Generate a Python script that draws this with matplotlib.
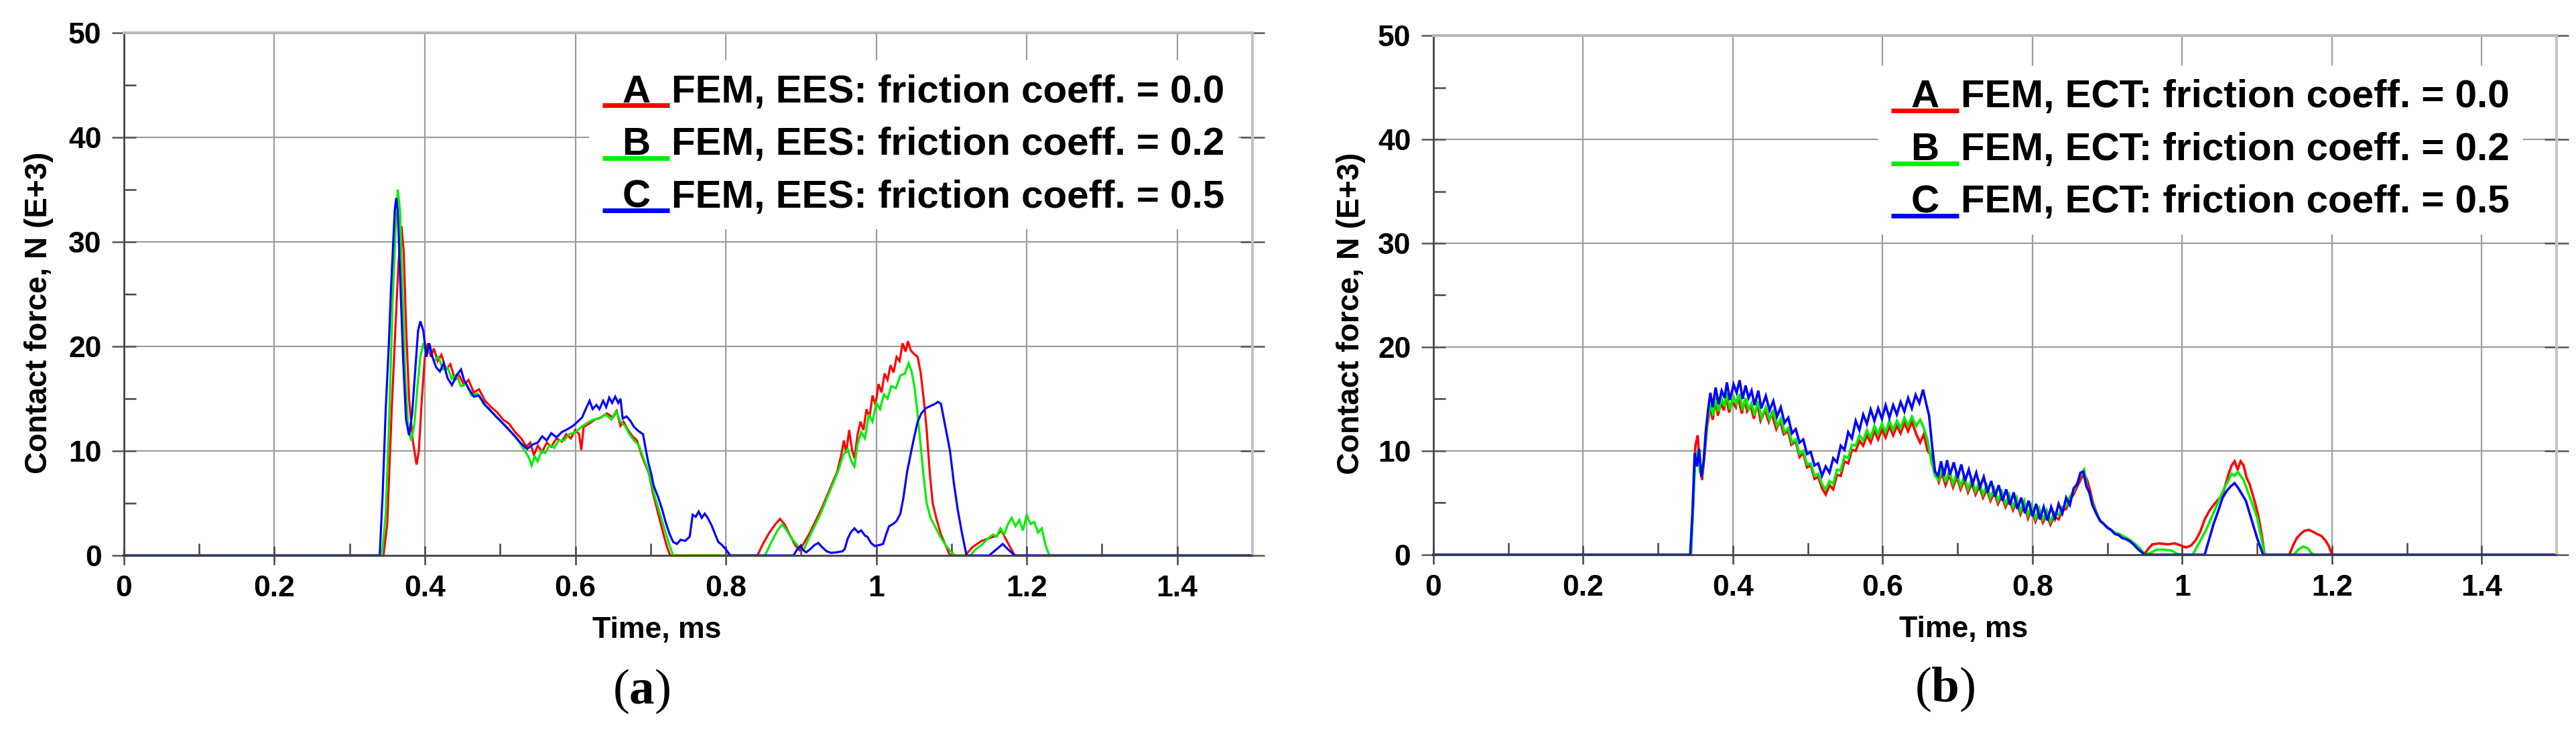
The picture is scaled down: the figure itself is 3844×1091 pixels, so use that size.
import matplotlib
matplotlib.use("Agg")
import matplotlib.pyplot as plt
from matplotlib.ticker import MultipleLocator, FixedLocator
from matplotlib.legend_handler import HandlerBase
from matplotlib.lines import Line2D
from matplotlib.text import Text

plt.rcParams['font.family'] = ['Liberation Sans', 'DejaVu Sans']
plt.rcParams['font.weight'] = 'bold'
plt.rcParams['mathtext.fontset'] = 'custom'
plt.rcParams['mathtext.rm'] = 'Liberation Serif'
plt.rcParams['mathtext.bf'] = 'Liberation Serif:bold'

# ---------------- data ----------------
X_TICKS = [0, 0.2, 0.4, 0.6, 0.8, 1.0, 1.2, 1.4]
X_TICKLABELS = ["0", "0.2", "0.4", "0.6", "0.8", "1", "1.2", "1.4"]
Y_TICKS = [0, 10, 20, 30, 40, 50]
X_LABEL = "Time, ms"
Y_LABEL = "Contact force, N (E+3)"
LETTERS = ["A", "B", "C"]
LABELS_A = ["FEM, EES: friction coeff. = 0.0",
            "FEM, EES: friction coeff. = 0.2",
            "FEM, EES: friction coeff. = 0.5"]
LABELS_B = ["FEM, ECT: friction coeff. = 0.0",
            "FEM, ECT: friction coeff. = 0.2",
            "FEM, ECT: friction coeff. = 0.5"]
CAPTIONS = [r"($\mathbf{a}$)", r"($\mathbf{b}$)"]

# panel (a) -- EES
A_RED = [(0, 0), (0.345, 0), (0.350, 3), (0.356, 14), (0.361, 22), (0.365, 28), (0.369, 31.5),
         (0.372, 29), (0.375, 22), (0.379, 15), (0.384, 11), (0.389, 8.7), (0.392, 10), (0.396, 15),
         (0.400, 19), (0.404, 20.3), (0.408, 19), (0.412, 19.8), (0.417, 18.6), (0.422, 19.2),
         (0.428, 17.8), (0.434, 18.3), (0.440, 16.8), (0.446, 17.2), (0.452, 16.3), (0.458, 16.8),
         (0.465, 15.6), (0.472, 15.9), (0.480, 14.8), (0.488, 14.2), (0.496, 13.7), (0.504, 13.0),
         (0.512, 12.6), (0.520, 11.8), (0.528, 11.2), (0.535, 10.4), (0.540, 10.8), (0.545, 9.6),
         (0.550, 10.5), (0.556, 9.9), (0.562, 10.8), (0.568, 10.4), (0.575, 11.2), (0.582, 10.9),
         (0.588, 11.6), (0.594, 11.2), (0.600, 12.0), (0.605, 11.6), (0.608, 10.1), (0.611, 12.3),
         (0.618, 12.6), (0.626, 13.0), (0.634, 13.2), (0.642, 13.6), (0.650, 13.2), (0.655, 13.8),
         (0.660, 12.4), (0.664, 12.8), (0.670, 12.0), (0.676, 11.4), (0.682, 11.0), (0.688, 9.6),
         (0.693, 8.7), (0.698, 7.8), (0.703, 6.0), (0.708, 4.6), (0.713, 3.2), (0.718, 1.8),
         (0.722, 0.8), (0.726, 0), (0.842, 0), (0.850, 1.2), (0.858, 2.2), (0.866, 3.0), (0.872, 3.5),
         (0.878, 3.0), (0.885, 2.0), (0.892, 1.0), (0.898, 0.5), (0.904, 1.2), (0.912, 2.2),
         (0.920, 3.4), (0.928, 4.6), (0.935, 5.8), (0.942, 7.0), (0.948, 8.0), (0.953, 9.5),
         (0.957, 11.0), (0.960, 9.8), (0.964, 12.0), (0.968, 10.0), (0.971, 9.3), (0.975, 11.5),
         (0.979, 12.8), (0.983, 12.0), (0.987, 14.0), (0.991, 13.2), (0.995, 15.3), (0.999, 14.4),
         (1.003, 16.4), (1.007, 15.6), (1.011, 17.4), (1.015, 16.8), (1.019, 18.2), (1.023, 17.5),
         (1.027, 19.0), (1.031, 18.6), (1.035, 20.3), (1.039, 19.5), (1.042, 20.5), (1.046, 19.6),
         (1.050, 19.3), (1.055, 19.0), (1.059, 17.5), (1.063, 15.0), (1.067, 12.0), (1.071, 8.0),
         (1.075, 5.0), (1.080, 3.5), (1.086, 2.0), (1.092, 1.0), (1.098, 0), (1.118, 0), (1.128, 0.8),
         (1.140, 1.4), (1.152, 1.7), (1.160, 1.9), (1.166, 2.4), (1.172, 1.6), (1.178, 0.8),
         (1.184, 0), (1.5, 0)]

A_GREEN = [(0, 0), (0.343, 0), (0.348, 4), (0.353, 14), (0.357, 24), (0.361, 31), (0.364, 35.0),
           (0.367, 33), (0.370, 26), (0.374, 17), (0.378, 12), (0.382, 11), (0.386, 12.5), (0.390, 16),
           (0.394, 19), (0.398, 20.3), (0.402, 19.2), (0.407, 19.8), (0.412, 18.6), (0.418, 19.0),
           (0.424, 17.8), (0.430, 18.0), (0.436, 16.9), (0.442, 17.3), (0.448, 16.2), (0.455, 16.4),
           (0.462, 15.3), (0.470, 15.5), (0.478, 14.5), (0.486, 14.0), (0.494, 13.3), (0.502, 12.8),
           (0.510, 12.2), (0.518, 11.5), (0.526, 10.8), (0.533, 10.0), (0.538, 9.4), (0.542, 8.6),
           (0.546, 9.5), (0.550, 9.0), (0.555, 10.0), (0.560, 9.8), (0.566, 10.6), (0.572, 10.3),
           (0.578, 11.0), (0.585, 11.0), (0.592, 11.6), (0.600, 11.8), (0.608, 12.3), (0.616, 12.7),
           (0.624, 13.0), (0.632, 13.1), (0.640, 13.5), (0.648, 13.0), (0.654, 13.8), (0.660, 12.8),
           (0.666, 12.4), (0.672, 11.6), (0.678, 11.0), (0.684, 10.6), (0.690, 9.4), (0.695, 8.5),
           (0.700, 7.2), (0.705, 5.8), (0.710, 4.6), (0.715, 3.4), (0.720, 2.2), (0.725, 1.0),
           (0.730, 0), (0.852, 0), (0.860, 1.2), (0.868, 2.3), (0.875, 3.0), (0.881, 2.4), (0.888, 1.6),
           (0.896, 0.9), (0.904, 0.6), (0.910, 1.6), (0.918, 2.8), (0.926, 4.0), (0.934, 5.4),
           (0.942, 6.8), (0.950, 8.2), (0.956, 9.6), (0.962, 10.2), (0.967, 9.0), (0.971, 8.5),
           (0.975, 10.6), (0.980, 11.8), (0.985, 11.2), (0.990, 13.5), (0.995, 12.8), (1.000, 14.6),
           (1.005, 14.0), (1.010, 15.4), (1.015, 15.0), (1.020, 16.2), (1.026, 16.0), (1.032, 17.2),
           (1.038, 17.4), (1.043, 18.4), (1.047, 17.6), (1.051, 16.0), (1.055, 13.5), (1.059, 10.5),
           (1.063, 7.5), (1.067, 5.0), (1.072, 3.6), (1.078, 2.8), (1.085, 1.8), (1.092, 1.0),
           (1.100, 0.3), (1.105, 0), (1.125, 0), (1.132, 0.6), (1.140, 1.0), (1.148, 1.6), (1.155, 2.0),
           (1.160, 1.8), (1.165, 2.6), (1.170, 2.0), (1.175, 3.0), (1.180, 3.6), (1.185, 2.8),
           (1.190, 3.4), (1.195, 2.4), (1.200, 3.9), (1.205, 3.0), (1.210, 3.2), (1.215, 2.2),
           (1.220, 2.6), (1.225, 1.0), (1.230, 0), (1.5, 0)]

A_BLUE = [(0, 0), (0.340, 0), (0.344, 6), (0.348, 14), (0.352, 20), (0.355, 25.5), (0.358, 30),
          (0.360, 33), (0.362, 34.2), (0.364, 33), (0.367, 27), (0.371, 19), (0.375, 13), (0.379, 11.5),
          (0.383, 13.5), (0.387, 17.5), (0.391, 21.5), (0.394, 22.4), (0.398, 21.5), (0.402, 19.0),
          (0.406, 20.3), (0.410, 19.0), (0.415, 18.0), (0.420, 17.6), (0.425, 18.4), (0.430, 17.0),
          (0.436, 16.3), (0.442, 17.2), (0.448, 17.8), (0.452, 16.8), (0.458, 16.0), (0.465, 15.2),
          (0.472, 15.3), (0.480, 14.4), (0.488, 13.8), (0.496, 13.2), (0.504, 12.6), (0.512, 12.0),
          (0.520, 11.4), (0.528, 10.7), (0.536, 10.2), (0.543, 10.6), (0.550, 10.8), (0.556, 11.4),
          (0.562, 11.0), (0.568, 11.7), (0.575, 11.3), (0.582, 11.8), (0.590, 12.1), (0.597, 12.4),
          (0.603, 12.8), (0.609, 13.2), (0.615, 14.2), (0.619, 14.8), (0.623, 14.0), (0.628, 14.4),
          (0.632, 14.0), (0.637, 14.8), (0.641, 14.2), (0.645, 15.1), (0.649, 14.6), (0.653, 15.2),
          (0.657, 14.6), (0.660, 15.0), (0.663, 13.1), (0.668, 13.3), (0.673, 12.9), (0.678, 12.3),
          (0.684, 11.9), (0.690, 11.6), (0.694, 10.0), (0.697, 8.9), (0.701, 7.8), (0.704, 6.7),
          (0.710, 5.6), (0.715, 4.5), (0.720, 3.2), (0.725, 2.1), (0.730, 1.3), (0.735, 1.1),
          (0.740, 1.5), (0.746, 1.4), (0.752, 1.8), (0.756, 3.9), (0.760, 3.7), (0.764, 4.2),
          (0.768, 3.6), (0.772, 4.0), (0.776, 3.6), (0.781, 2.9), (0.786, 2.0), (0.790, 1.3),
          (0.795, 1.0), (0.800, 0.6), (0.806, 0), (0.890, 0), (0.895, 0.6), (0.899, 0.9), (0.903, 0.5),
          (0.907, 0.3), (0.912, 0.6), (0.918, 1.0), (0.923, 1.2), (0.928, 0.8), (0.934, 0.4),
          (0.940, 0.25), (0.947, 0.3), (0.955, 0.4), (0.958, 0.6), (0.962, 1.6), (0.966, 2.2),
          (0.971, 2.6), (0.976, 2.2), (0.980, 2.4), (0.985, 1.9), (0.988, 1.8), (0.993, 1.2),
          (0.998, 0.9), (1.004, 1.0), (1.009, 1.1), (1.013, 2.0), (1.017, 2.8), (1.022, 3.0),
          (1.027, 3.3), (1.032, 4.0), (1.036, 5.5), (1.041, 8.0), (1.046, 9.8), (1.050, 11.2),
          (1.055, 12.8), (1.060, 13.6), (1.066, 14.1), (1.072, 14.3), (1.078, 14.5), (1.082, 14.7),
          (1.086, 14.5), (1.090, 13.0), (1.094, 11.5), (1.098, 10.0), (1.103, 7.0), (1.108, 4.5),
          (1.114, 2.1), (1.120, 0), (1.150, 0), (1.160, 0.6), (1.168, 1.1), (1.175, 0.6), (1.184, 0),
          (1.5, 0)]

# panel (b) -- ECT
B_RED = [(0, 0), (0.344, 0), (0.347, 5.0), (0.350, 10.5), (0.353, 11.5), (0.356, 8.5), (0.359, 7.2),
         (0.362, 9.5), (0.366, 12.5), (0.370, 14.2), (0.373, 13.0), (0.377, 14.9), (0.380, 13.4),
         (0.384, 14.6), (0.388, 13.9), (0.391, 15.3), (0.395, 13.7), (0.399, 14.8), (0.404, 14.2),
         (0.407, 15.2), (0.412, 13.6), (0.416, 14.9), (0.419, 13.8), (0.424, 14.3), (0.428, 13.1),
         (0.433, 14.5), (0.437, 12.9), (0.443, 13.9), (0.448, 12.8), (0.452, 13.6), (0.458, 12.1),
         (0.463, 12.9), (0.468, 11.6), (0.474, 11.9), (0.478, 10.6), (0.484, 10.9), (0.489, 9.4),
         (0.494, 9.8), (0.499, 8.4), (0.504, 8.6), (0.509, 7.3), (0.514, 7.5), (0.519, 6.4),
         (0.524, 5.8), (0.529, 6.7), (0.534, 6.3), (0.539, 7.7), (0.544, 7.6), (0.549, 9.0),
         (0.554, 8.8), (0.559, 10.1), (0.564, 10.0), (0.569, 11.0), (0.574, 10.5), (0.579, 11.5),
         (0.584, 10.8), (0.589, 11.9), (0.594, 11.1), (0.599, 12.1), (0.604, 11.3), (0.609, 12.4),
         (0.614, 11.5), (0.619, 12.4), (0.624, 11.7), (0.629, 12.7), (0.634, 11.9), (0.639, 12.8),
         (0.645, 11.6), (0.650, 10.8), (0.655, 11.6), (0.660, 10.0), (0.665, 9.6), (0.670, 8.0),
         (0.675, 7.0), (0.679, 7.9), (0.684, 6.7), (0.689, 7.7), (0.694, 6.5), (0.699, 7.5),
         (0.704, 6.3), (0.709, 7.2), (0.714, 6.0), (0.719, 6.9), (0.724, 5.8), (0.729, 6.6),
         (0.734, 5.5), (0.739, 6.3), (0.744, 5.2), (0.749, 6.0), (0.754, 4.9), (0.759, 5.7),
         (0.764, 4.6), (0.769, 5.4), (0.774, 4.3), (0.779, 5.1), (0.784, 3.9), (0.789, 4.8),
         (0.794, 3.5), (0.799, 4.4), (0.804, 3.2), (0.809, 4.1), (0.814, 3.1), (0.819, 3.9),
         (0.824, 2.9), (0.829, 3.7), (0.835, 3.4), (0.840, 4.3), (0.845, 4.4), (0.850, 5.3),
         (0.855, 5.8), (0.860, 6.6), (0.865, 7.3), (0.869, 7.8), (0.873, 7.2), (0.877, 6.2),
         (0.881, 5.0), (0.886, 4.0), (0.891, 3.2), (0.896, 2.9), (0.901, 2.6), (0.906, 2.3),
         (0.911, 2.1), (0.916, 1.9), (0.921, 1.7), (0.926, 1.5), (0.931, 1.3), (0.936, 1.0),
         (0.941, 0.7), (0.946, 0.3), (0.950, 0.1), (0.955, 0.6), (0.960, 1.0), (0.970, 1.1),
         (0.980, 1.0), (0.990, 1.1), (0.998, 0.9), (1.005, 0.7), (1.012, 0.9), (1.018, 1.4),
         (1.024, 2.2), (1.030, 3.4), (1.036, 4.2), (1.042, 4.8), (1.048, 5.3), (1.054, 5.8),
         (1.058, 6.8), (1.062, 7.8), (1.066, 8.6), (1.070, 9.0), (1.074, 8.2), (1.078, 9.0),
         (1.082, 8.6), (1.086, 7.4), (1.090, 6.8), (1.094, 5.8), (1.098, 4.8), (1.102, 3.6),
         (1.106, 2.0), (1.110, 0), (1.143, 0), (1.148, 0.9), (1.153, 1.6), (1.158, 2.0), (1.163, 2.3),
         (1.169, 2.4), (1.175, 2.2), (1.180, 2.0), (1.186, 1.8), (1.191, 1.4), (1.196, 0.8),
         (1.200, 0), (1.5, 0)]

B_GREEN = [(0, 0), (0.344, 0), (0.347, 4.5), (0.350, 9.5), (0.353, 10.0), (0.356, 8.0), (0.359, 7.5),
           (0.362, 9.8), (0.366, 12.8), (0.370, 14.5), (0.374, 13.4), (0.377, 15.2), (0.381, 13.8),
           (0.385, 15.0), (0.389, 14.3), (0.392, 15.6), (0.396, 14.0), (0.401, 15.2), (0.405, 14.5),
           (0.409, 15.5), (0.413, 13.9), (0.417, 15.1), (0.421, 14.0), (0.425, 14.6), (0.429, 13.4),
           (0.434, 14.8), (0.438, 13.2), (0.444, 14.2), (0.449, 13.0), (0.454, 13.8), (0.459, 12.4),
           (0.464, 13.1), (0.469, 11.8), (0.474, 12.2), (0.479, 10.8), (0.484, 11.1), (0.489, 9.7),
           (0.494, 10.0), (0.499, 8.7), (0.504, 8.8), (0.509, 7.6), (0.514, 7.8), (0.519, 6.8),
           (0.524, 6.3), (0.529, 7.1), (0.534, 6.8), (0.539, 8.2), (0.544, 8.1), (0.549, 9.5),
           (0.554, 9.3), (0.559, 10.6), (0.564, 10.5), (0.569, 11.5), (0.574, 11.0), (0.579, 12.0),
           (0.584, 11.3), (0.589, 12.4), (0.594, 11.6), (0.599, 12.6), (0.604, 11.8), (0.609, 12.9),
           (0.614, 12.0), (0.619, 12.9), (0.624, 12.2), (0.629, 13.2), (0.634, 12.4), (0.639, 13.3),
           (0.645, 12.4), (0.650, 13.0), (0.655, 12.2), (0.660, 11.0), (0.665, 9.0), (0.670, 7.6),
           (0.675, 7.2), (0.680, 8.4), (0.684, 7.0), (0.689, 8.1), (0.694, 6.8), (0.699, 7.9),
           (0.704, 6.6), (0.709, 7.6), (0.714, 6.3), (0.719, 7.3), (0.724, 6.1), (0.729, 7.0),
           (0.734, 5.8), (0.739, 6.7), (0.744, 5.5), (0.749, 6.4), (0.754, 5.2), (0.759, 6.1),
           (0.764, 4.9), (0.769, 5.8), (0.774, 4.6), (0.779, 5.5), (0.784, 4.2), (0.789, 5.2),
           (0.794, 3.8), (0.799, 4.8), (0.804, 3.5), (0.809, 4.5), (0.814, 3.4), (0.819, 4.3),
           (0.824, 3.2), (0.829, 4.1), (0.835, 3.8), (0.840, 4.6), (0.845, 4.7), (0.850, 5.6),
           (0.855, 6.1), (0.860, 7.0), (0.865, 7.8), (0.869, 8.2), (0.873, 6.5), (0.877, 5.8),
           (0.881, 4.8), (0.886, 4.0), (0.891, 3.2), (0.896, 2.9), (0.901, 2.6), (0.906, 2.3),
           (0.911, 2.1), (0.916, 2.0), (0.921, 1.8), (0.926, 1.6), (0.931, 1.4), (0.936, 1.1),
           (0.941, 0.8), (0.946, 0.4), (0.950, 0), (0.958, 0.2), (0.966, 0.5), (0.976, 0.5),
           (0.986, 0.4), (0.993, 0.1), (0.998, 0), (1.014, 0), (1.020, 0.8), (1.026, 1.6), (1.032, 2.4),
           (1.038, 3.4), (1.044, 4.4), (1.050, 5.4), (1.056, 6.4), (1.062, 7.2), (1.066, 7.8),
           (1.070, 7.6), (1.074, 8.0), (1.078, 7.6), (1.082, 7.2), (1.086, 6.4), (1.090, 5.6),
           (1.095, 4.6), (1.100, 3.6), (1.105, 1.8), (1.110, 0), (1.149, 0), (1.155, 0.5), (1.162, 0.8),
           (1.168, 0.6), (1.172, 0.2), (1.175, 0), (1.5, 0)]

B_BLUE = [(0, 0), (0.343, 0), (0.346, 4.0), (0.349, 9.8), (0.352, 8.5), (0.355, 10.2), (0.358, 7.5),
          (0.361, 9.0), (0.364, 12.0), (0.367, 14.0), (0.370, 15.6), (0.373, 14.2), (0.377, 16.1),
          (0.381, 14.5), (0.385, 15.8), (0.389, 15.1), (0.392, 16.6), (0.396, 14.9), (0.401, 16.4),
          (0.405, 15.6), (0.409, 16.8), (0.413, 15.0), (0.417, 16.3), (0.421, 15.1), (0.425, 15.8),
          (0.429, 14.4), (0.434, 15.8), (0.438, 14.1), (0.444, 15.3), (0.449, 13.9), (0.454, 14.8),
          (0.459, 13.3), (0.464, 14.2), (0.469, 12.7), (0.474, 13.2), (0.479, 11.7), (0.484, 12.1),
          (0.489, 10.8), (0.494, 11.1), (0.499, 9.7), (0.504, 9.9), (0.509, 8.6), (0.514, 8.8),
          (0.519, 7.6), (0.524, 8.5), (0.529, 7.9), (0.534, 9.3), (0.539, 8.9), (0.544, 10.5),
          (0.549, 10.1), (0.554, 11.8), (0.559, 11.2), (0.564, 12.9), (0.569, 12.0), (0.574, 13.5),
          (0.579, 12.6), (0.584, 14.0), (0.589, 12.9), (0.594, 14.1), (0.599, 13.1), (0.604, 14.4),
          (0.609, 13.2), (0.614, 14.4), (0.619, 13.5), (0.624, 14.7), (0.629, 13.8), (0.634, 15.1),
          (0.639, 14.1), (0.644, 15.4), (0.649, 14.6), (0.654, 15.9), (0.658, 14.6), (0.662, 13.4),
          (0.666, 10.5), (0.670, 8.0), (0.674, 7.6), (0.678, 9.0), (0.682, 7.6), (0.686, 9.1),
          (0.690, 7.7), (0.695, 8.9), (0.700, 7.4), (0.705, 8.7), (0.710, 7.1), (0.715, 8.2),
          (0.720, 6.8), (0.725, 7.9), (0.730, 6.5), (0.735, 7.5), (0.740, 6.0), (0.745, 7.1),
          (0.750, 5.6), (0.755, 6.7), (0.760, 5.2), (0.765, 6.3), (0.770, 4.8), (0.775, 6.0),
          (0.780, 4.4), (0.785, 5.5), (0.790, 4.0), (0.795, 5.2), (0.800, 3.7), (0.805, 4.9),
          (0.810, 3.4), (0.815, 4.6), (0.820, 3.3), (0.825, 4.6), (0.830, 3.5), (0.835, 4.9),
          (0.840, 4.0), (0.845, 5.5), (0.850, 4.8), (0.855, 6.4), (0.860, 6.8), (0.864, 7.9),
          (0.868, 8.0), (0.872, 6.6), (0.876, 6.0), (0.880, 4.8), (0.885, 4.0), (0.890, 3.3),
          (0.895, 3.0), (0.900, 2.6), (0.905, 2.4), (0.910, 2.0), (0.915, 1.9), (0.920, 1.6),
          (0.925, 1.5), (0.930, 1.3), (0.935, 1.0), (0.940, 0.6), (0.945, 0.3), (0.950, 0),
          (1.030, 0), (1.036, 1.5), (1.042, 3.0), (1.048, 4.2), (1.054, 5.5), (1.060, 6.2),
          (1.065, 6.6), (1.070, 6.9), (1.075, 6.4), (1.080, 5.8), (1.085, 5.2), (1.090, 4.0),
          (1.095, 2.8), (1.100, 1.6), (1.106, 0.4), (1.108, 0), (1.5, 0)]

COLORS = ["#ff0000", "#00ee00", "#0000ff"]

# ---------------- drawing ----------------
class LetterHandler(HandlerBase):
    def __init__(self, letter):
        super().__init__()
        self.letter = letter

    def create_artists(self, legend, orig_handle, xdescent, ydescent, width, height,
                       fontsize, trans):
        x0 = -xdescent
        line = Line2D([x0, x0 + width], [-0.08 * fontsize] * 2, color=orig_handle.get_color(),
                      lw=5, solid_capstyle='butt', transform=trans)
        txt = Text(x0 + width / 2, 0, self.letter, ha='center', va='baseline',
                   fontsize=fontsize, fontweight='bold', family='Liberation Sans',
                   color='black', transform=trans)
        return [line, txt]


def style(ax):
    ax.set_xlim(0, 1.5)
    ax.set_ylim(0, 50)
    ax.xaxis.set_major_locator(FixedLocator(X_TICKS))
    ax.set_xticklabels(X_TICKLABELS)
    ax.yaxis.set_major_locator(FixedLocator(Y_TICKS))
    ax.xaxis.set_minor_locator(MultipleLocator(0.1))
    ax.yaxis.set_minor_locator(MultipleLocator(5))
    ax.grid(True, which='major', color='#9c9c9c', lw=1.6)
    ax.set_axisbelow(True)
    ax.tick_params(axis='y', which='major', direction='inout', length=26, width=1.8,
                   color='#555555', labelsize=32, pad=11, right=True)
    ax.tick_params(axis='x', which='major', direction='inout', length=20, width=1.8,
                   color='#444444', labelsize=32, pad=11)
    ax.tick_params(which='minor', direction='in', length=13, width=1.8, color='#444444')
    for lab in ax.get_xticklabels() + ax.get_yticklabels():
        lab.set_fontweight('bold')
    ax.spines['left'].set_color('#444444')
    ax.spines['left'].set_linewidth(2)
    ax.spines['bottom'].set_color('#444444')
    ax.spines['bottom'].set_linewidth(2)
    ax.spines['top'].set_color('#b8b8b8')
    ax.spines['top'].set_linewidth(3)
    ax.spines['right'].set_color('#c4c4c4')
    ax.spines['right'].set_linewidth(3)
    ax.set_xlabel(X_LABEL, fontsize=32, fontweight='bold')
    ax.set_ylabel(Y_LABEL, fontsize=33, fontweight='bold')


fig = plt.figure(figsize=(38.44, 10.91), dpi=100)
axa = fig.add_axes([0.0481, 0.2401, 0.4381, 0.7150])
axb = fig.add_axes([0.5564, 0.2411, 0.4361, 0.7103])

panels = [
    (axa, [A_RED, A_GREEN, A_BLUE], LABELS_A, (0.412, 0.947), -0.062, 2.3),
    (axb, [B_RED, B_GREEN, B_BLUE], LABELS_B, (0.3956, 0.942), -0.060, 2.6),
]

for ax, series, labels, anchor, ylx, lw in panels:
    style(ax)
    handles = []
    for data, color, lab in zip(series, COLORS, labels):
        t = [p[0] for p in data]
        f = [p[1] for p in data]
        ln, = ax.plot(t, f, color=color, lw=lw, label=lab, clip_on=False,
                      solid_joinstyle='miter')
        handles.append(ln)
    hmap = {h: LetterHandler(l) for h, l in zip(handles, LETTERS)}
    leg = ax.legend(handles=handles, labels=labels, handler_map=hmap, loc='upper left',
                    bbox_to_anchor=anchor, borderaxespad=0, frameon=True, fancybox=False,
                    framealpha=1, facecolor='white', edgecolor='none',
                    prop={'family': 'Liberation Sans', 'weight': 'bold', 'size': 42},
                    handlelength=1.72, handletextpad=0.05, labelspacing=0.42, borderpad=0.35)
    ax.xaxis.set_label_coords(0.472, -0.117)
    ax.yaxis.set_label_coords(ylx, 0.465)

fig.text(0.249, 0.054, CAPTIONS[0], ha='center', va='center', fontsize=54,
         family='Liberation Serif', fontweight='normal')
fig.text(0.755, 0.057, CAPTIONS[1], ha='center', va='center', fontsize=54,
         family='Liberation Serif', fontweight='normal')

fig.savefig("out.png", dpi=100, facecolor='white')
